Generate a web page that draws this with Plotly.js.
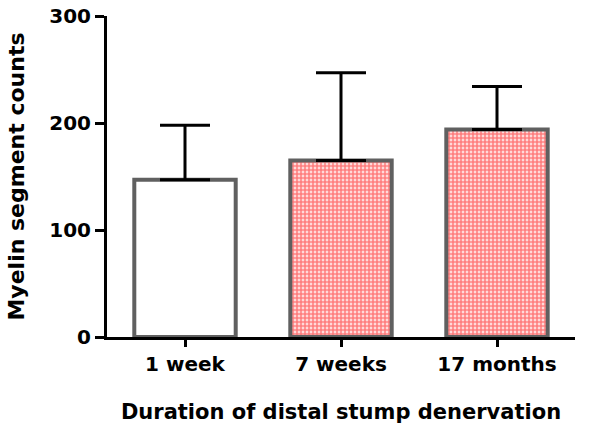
<!DOCTYPE html>
<html>
<head>
<meta charset="utf-8">
<script src="https://cdn.plot.ly/plotly-3.0.1.min.js"></script>
<style>
  html, body { margin: 0; padding: 0; background: #fff; }
  #chart { width: 600px; height: 438px; }
</style>
</head>
<body>
<div id="chart"></div>
<script>
// values
const durations = ["1 week", "7 weeks", "17 months"];
const segmentMeans = [147, 165, 194];
const segmentUpper = [198, 247, 234];
const yTicks = [0, 100, 200, 300];

const errorPlus = segmentMeans.map((m, i) => segmentUpper[i] - m);

const font = "DejaVu Sans, Verdana, sans-serif";

const trace = {
  type: "bar",
  x: durations,
  y: segmentMeans,
  width: 0.65,
  hoverinfo: "none",
  marker: {
    color: ["#ffffff", "#ff8080", "#ff8080"],
    line: { color: "#606060", width: 4 },
    // pink dotted texture standing in for the checkerboard
    pattern: {
      shape: ["", ".", "."],
      fillmode: "replace",
      fgcolor: "#ff8080",
      bgcolor: "#ffffff",
      size: 4,
      solidity: 0.74,
    },
  },
  error_y: {
    type: "data",
    symmetric: false,
    array: errorPlus,
    arrayminus: [0, 0, 0],
    color: "#000000",
    thickness: 3,
    width: 25,
  },
};

const layout = {
  width: 600,
  height: 438,
  margin: { l: 107, r: 25, t: 16, b: 101 },
  paper_bgcolor: "#ffffff",
  plot_bgcolor: "#ffffff",
  showlegend: false,
  font: { family: font, color: "#000000" },
  xaxis: {
    range: [-0.5, 2.5],
    showline: true,
    linecolor: "#000000",
    linewidth: 3,
    ticks: "outside",
    ticklen: 7,
    tickwidth: 3,
    tickcolor: "#000000",
    showgrid: false,
    tickfont: { size: 20, family: font, weight: "bold" },
    title: {
      text: "Duration of distal stump denervation",
      font: { size: 21, family: font, weight: "bold" },
      standoff: 30,
    },
  },
  yaxis: {
    range: [0, 300],
    tickvals: yTicks,
    showline: true,
    linecolor: "#000000",
    linewidth: 3,
    ticks: "outside",
    ticklen: 9,
    tickwidth: 3,
    tickcolor: "#000000",
    showgrid: false,
    zeroline: false,
    tickfont: { size: 20, family: font, weight: "bold" },
    title: {
      text: "Myelin segment counts",
      font: { size: 22, family: font, weight: "bold" },
      standoff: 19,
    },
  },
};

Plotly.newPlot("chart", [trace], layout, { staticPlot: true, displayModeBar: false });
</script>
</body>
</html>
